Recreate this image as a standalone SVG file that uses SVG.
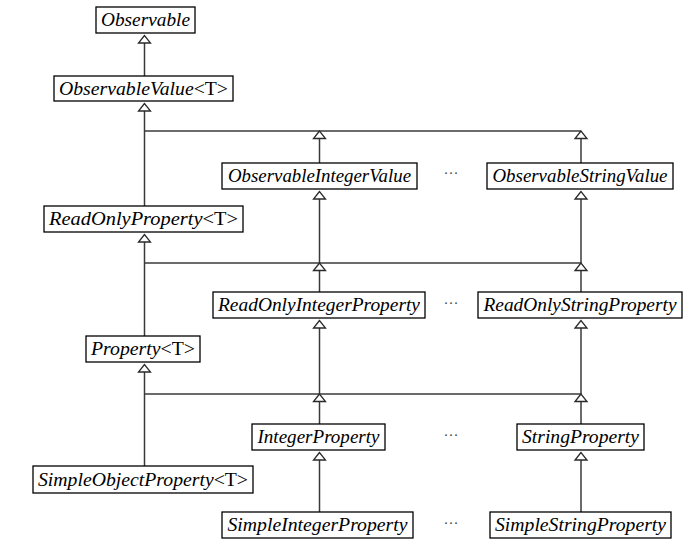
<svg xmlns="http://www.w3.org/2000/svg" xmlns:xlink="http://www.w3.org/1999/xlink" width="695" height="549" viewBox="0 0 695 549">
<style>
  .box { fill: #ffffff; stroke: #000000; stroke-width: 1.3; }
  .lbl { font-family: "Liberation Serif", "Times New Roman", serif; font-style: italic; font-size: 18.5px; fill: #000000; text-anchor: middle; }
  .up { font-style: normal; }
  .dots { font-family: "Liberation Serif", serif; font-size: 15px; fill: #444; text-anchor: middle; }
  .conn line { stroke: #3a3a3a; stroke-width: 1.5; fill: none; }
  .tri { fill: #ffffff; stroke: #2a2a2a; stroke-width: 1.3; stroke-linejoin: miter; }
</style>
<defs>
  <path id="tri" class="tri" d="M0,0 L-6,7.5 L6,7.5 Z"/>
</defs>
<rect width="695" height="549" fill="#ffffff"/>

<g id="connectors" class="conn">
  <line x1="144.5" y1="43" x2="144.5" y2="76"/>
  <line x1="144.5" y1="111" x2="144.5" y2="206"/>
  <line x1="144.5" y1="131" x2="581" y2="131"/>
  <line x1="319.5" y1="138.5" x2="319.5" y2="163"/>
  <line x1="581" y1="138.5" x2="581" y2="163"/>
  <line x1="319.5" y1="199" x2="319.5" y2="263"/>
  <line x1="581" y1="199" x2="581" y2="263"/>
  <line x1="144.5" y1="242" x2="144.5" y2="336"/>
  <line x1="144.5" y1="263" x2="581" y2="263"/>
  <line x1="319.5" y1="270.5" x2="319.5" y2="292"/>
  <line x1="581" y1="270.5" x2="581" y2="292"/>
  <line x1="319.5" y1="328" x2="319.5" y2="394"/>
  <line x1="581" y1="328" x2="581" y2="394"/>
  <line x1="144.5" y1="372" x2="144.5" y2="466"/>
  <line x1="144.5" y1="394" x2="581" y2="394"/>
  <line x1="319.5" y1="401.5" x2="319.5" y2="424"/>
  <line x1="581" y1="401.5" x2="581" y2="424"/>
  <line x1="319.5" y1="460" x2="319.5" y2="512"/>
  <line x1="581" y1="460" x2="581" y2="512"/>
  <use xlink:href="#tri" x="144.5" y="35.5"/>
  <use xlink:href="#tri" x="144.5" y="103.5"/>
  <use xlink:href="#tri" x="319.5" y="131"/>
  <use xlink:href="#tri" x="581" y="131"/>
  <use xlink:href="#tri" x="319.5" y="191.5"/>
  <use xlink:href="#tri" x="581" y="191.5"/>
  <use xlink:href="#tri" x="144.5" y="234.5"/>
  <use xlink:href="#tri" x="319.5" y="263"/>
  <use xlink:href="#tri" x="581" y="263"/>
  <use xlink:href="#tri" x="319.5" y="320.5"/>
  <use xlink:href="#tri" x="581" y="320.5"/>
  <use xlink:href="#tri" x="144.5" y="364.5"/>
  <use xlink:href="#tri" x="319.5" y="394"/>
  <use xlink:href="#tri" x="581" y="394"/>
  <use xlink:href="#tri" x="319.5" y="452.5"/>
  <use xlink:href="#tri" x="581" y="452.5"/>
</g>

<g id="observable">
  <rect class="box" x="96" y="7" width="99" height="26"/>
  <text class="lbl" x="145.5" y="26" textLength="89" lengthAdjust="spacingAndGlyphs">Observable</text>
</g>
<g id="observable-value">
  <rect class="box" x="54" y="76" width="179" height="25"/>
  <text class="lbl" x="143.5" y="94.5" textLength="169" lengthAdjust="spacingAndGlyphs">ObservableValue<tspan class="up">&lt;T&gt;</tspan></text>
</g>
<g id="observable-integer-value">
  <rect class="box" x="222" y="163" width="195" height="26"/>
  <text class="lbl" x="319.5" y="182" textLength="183" lengthAdjust="spacingAndGlyphs">ObservableIntegerValue</text>
</g>
<g id="observable-string-value">
  <rect class="box" x="487" y="163" width="186" height="26"/>
  <text class="lbl" x="580" y="182" textLength="175" lengthAdjust="spacingAndGlyphs">ObservableStringValue</text>
</g>
<g id="readonly-property">
  <rect class="box" x="44" y="206" width="199" height="26"/>
  <text class="lbl" x="143.5" y="225" textLength="189" lengthAdjust="spacingAndGlyphs">ReadOnlyProperty<tspan class="up">&lt;T&gt;</tspan></text>
</g>
<g id="readonly-integer-property">
  <rect class="box" x="213" y="292" width="212" height="26"/>
  <text class="lbl" x="319" y="311" textLength="202" lengthAdjust="spacingAndGlyphs">ReadOnlyIntegerProperty</text>
</g>
<g id="readonly-string-property">
  <rect class="box" x="478" y="292" width="204" height="26"/>
  <text class="lbl" x="580" y="311" textLength="193" lengthAdjust="spacingAndGlyphs">ReadOnlyStringProperty</text>
</g>
<g id="property">
  <rect class="box" x="86" y="336" width="114" height="26"/>
  <text class="lbl" x="143" y="355" textLength="104" lengthAdjust="spacingAndGlyphs">Property<tspan class="up">&lt;T&gt;</tspan></text>
</g>
<g id="integer-property">
  <rect class="box" x="252" y="424" width="133" height="26"/>
  <text class="lbl" x="318.5" y="443" textLength="122" lengthAdjust="spacingAndGlyphs">IntegerProperty</text>
</g>
<g id="string-property">
  <rect class="box" x="517" y="424" width="127" height="26"/>
  <text class="lbl" x="580.5" y="443" textLength="117" lengthAdjust="spacingAndGlyphs">StringProperty</text>
</g>
<g id="simple-object-property">
  <rect class="box" x="33" y="466" width="220" height="27"/>
  <text class="lbl" x="143" y="485.5" textLength="210" lengthAdjust="spacingAndGlyphs">SimpleObjectProperty<tspan class="up">&lt;T&gt;</tspan></text>
</g>
<g id="simple-integer-property">
  <rect class="box" x="222" y="512" width="191" height="26"/>
  <text class="lbl" x="317.5" y="531" textLength="180" lengthAdjust="spacingAndGlyphs">SimpleIntegerProperty</text>
</g>
<g id="simple-string-property">
  <rect class="box" x="490" y="512" width="181" height="26"/>
  <text class="lbl" x="580.5" y="531" textLength="171" lengthAdjust="spacingAndGlyphs">SimpleStringProperty</text>
</g>

<g id="ellipses">
  <text class="dots" x="451" y="178">···</text>
  <text class="dots" x="451" y="308">···</text>
  <text class="dots" x="451" y="440">···</text>
  <text class="dots" x="451" y="528">···</text>
</g>
</svg>
